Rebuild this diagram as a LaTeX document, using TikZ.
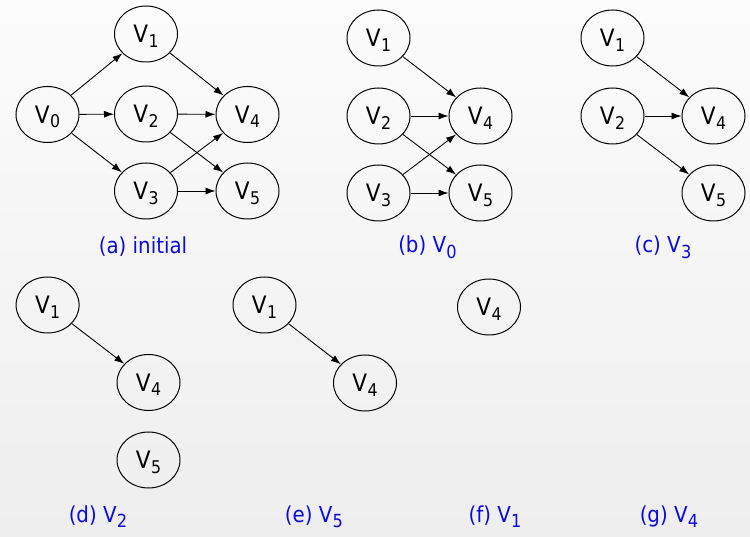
\documentclass[tikz,border=0pt]{standalone}
\usepackage{fontspec}
\setmainfont[FakeStretch=0.9]{DejaVu Sans}
\usetikzlibrary{shapes.geometric,arrows.meta}
\definecolor{capblue}{RGB}{10,10,225}
\definecolor{bgtop}{RGB}{252,252,252}
\definecolor{bgbot}{RGB}{238,238,238}
\newcommand\Vn[1]{V\kern0.3pt\raisebox{-4.5pt}[0pt][0pt]{\fontsize{17.5}{17.5}\selectfont #1}}
\newcommand\Vl[1]{V\kern0.3pt\raisebox{-5.5pt}[0pt][0pt]{\fontsize{18}{18}\selectfont #1}}
\tikzset{
  vert/.style={ellipse,draw,line width=1pt,minimum width=63pt,minimum height=56pt,inner sep=0pt,font=\fontsize{24}{24}\selectfont},
  lbl/.style={text=capblue,font=\fontsize{22}{22}\selectfont,anchor=base},
  arr/.style={-{Latex[length=10pt,width=7pt]},line width=0.9pt}
}
\begin{document}
\begin{tikzpicture}[x=1pt,y=-1pt]
\useasboundingbox (0,0) rectangle (750,537);
\fill[top color=bgtop,bottom color=bgbot] (0,0) rectangle (750,537);
% (a)
\node[vert] (a0) at (47.5,114.5) {\Vn{0}};
\node[vert] (a1) at (146,34) {\Vn{1}};
\node[vert] (a2) at (146,114) {\Vn{2}};
\node[vert] (a3) at (146,191) {\Vn{3}};
\node[vert] (a4) at (247.5,114.5) {\Vn{4}};
\node[vert] (a5) at (247.5,191) {\Vn{5}};
\draw[arr] (a0) -- (a1);
\draw[arr] (a0) -- (a2);
\draw[arr] (a0) -- (a3);
\draw[arr] (a1) -- (a4);
\draw[arr] (a2) -- (a4);
\draw[arr] (a2) -- (a5);
\draw[arr] (a3) -- (a4);
\draw[arr] (a3) -- (a5);
\node[lbl] (la) at (143,254) {(a) initial};
% (b)
\node[vert] (b1) at (378.5,38) {\Vn{1}};
\node[vert] (b2) at (378.5,116) {\Vn{2}};
\node[vert] (b3) at (378.5,193) {\Vn{3}};
\node[vert] (b4) at (480.5,116) {\Vn{4}};
\node[vert] (b5) at (480.5,193) {\Vn{5}};
\draw[arr] (b1) -- (b4);
\draw[arr] (b2) -- (b4);
\draw[arr] (b2) -- (b5);
\draw[arr] (b3) -- (b4);
\draw[arr] (b3) -- (b5);
\node[lbl] (lb) at (427.5,253) {(b) \Vl{0}};
% (c)
\node[vert] (c1) at (612.5,38) {\Vn{1}};
\node[vert] (c2) at (612.5,116) {\Vn{2}};
\node[vert] (c4) at (713.5,116) {\Vn{4}};
\node[vert] (c5) at (713.5,193) {\Vn{5}};
\draw[arr] (c1) -- (c4);
\draw[arr] (c2) -- (c4);
\draw[arr] (c2) -- (c5);
\node[lbl] (lc) at (663,253) {(c) \Vl{3}};
% (d)
\node[vert] (d1) at (47.6,305) {\Vn{1}};
\node[vert] (d4) at (148.5,382.5) {\Vn{4}};
\node[vert] (d5) at (148.5,460) {\Vn{5}};
\draw[arr] (d1) -- (d4);
\node[lbl] (ld) at (98,522) {(d) \Vl{2}};
% (e)
\node[vert] (e1) at (264.5,305) {\Vn{1}};
\node[vert] (e4) at (365,383) {\Vn{4}};
\draw[arr] (e1) -- (e4);
\node[lbl] (le) at (314,522) {(e) \Vl{5}};
% (f)
\node[vert] (f4) at (489,307) {\Vn{4}};
\node[lbl] (lf) at (495,522) {(f) \Vl{1}};
% (g)
\node[lbl] (lg) at (669,522) {(g) \Vl{4}};
\end{tikzpicture}
\end{document}
